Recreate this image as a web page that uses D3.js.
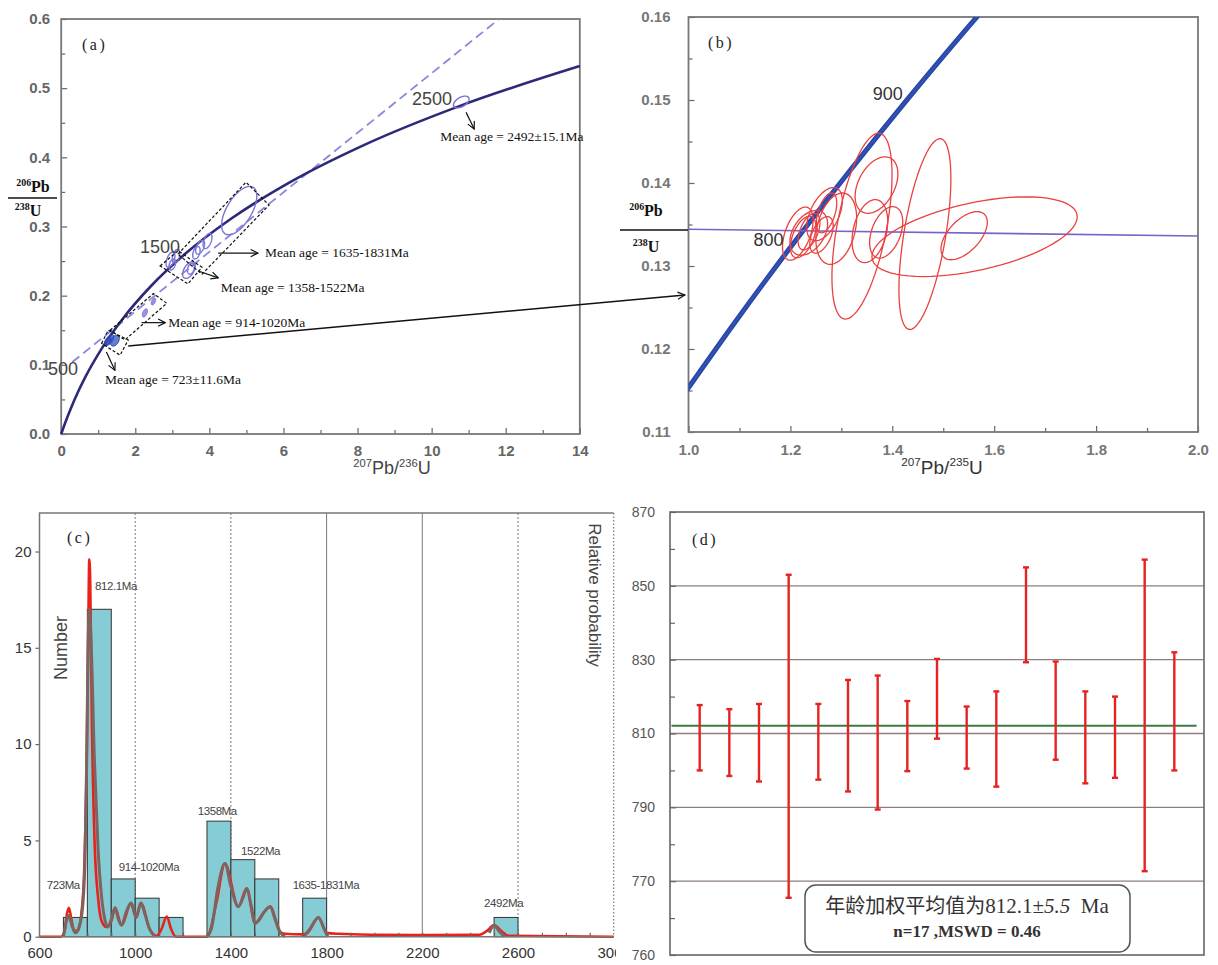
<!DOCTYPE html>
<html>
<head>
<meta charset="utf-8">
<script src="https://cdn.jsdelivr.net/npm/d3@7"></script>
<style>
  body { margin: 0; background: #fff; }
  svg { display: block; }
</style>
</head>
<body>
<svg id="fig" width="1218" height="965"></svg>
<script>
// ---------- data: panel (a) concordia diagram ----------
const concAgesA = [0, 100, 250, 375, 500, 750, 1000, 1250, 1500, 1750, 2000, 2250, 2500, 2750];
const concXA = [0, 0.1035, 0.2792, 0.4468, 0.6362, 1.0931, 1.6774, 2.4247, 3.3812, 4.6042, 6.1685, 8.1704, 10.731, 14.005];
const concYA = [0, 0.0156, 0.0395, 0.0599, 0.0807, 0.1234, 0.1678, 0.2140, 0.2620, 0.3119, 0.3638, 0.4177, 0.4737, 0.5320];
const discordA = [[0.3, 0.104], [11.82, 0.6]];
// error ellipses: [x, y, sx, sy, rho]
const ellipsesA = [
  [10.8, 0.480, 0.21, 0.0085, 0.5],
  [4.805, 0.323, 0.475, 0.035, 0.6],
  [3.75, 0.270, 0.12, 0.010, 0.5],
  [3.95, 0.279, 0.12, 0.011, 0.5],
  [3.65, 0.262, 0.10, 0.009, 0.4],
  [2.95, 0.252, 0.12, 0.011, 0.5],
  [3.10, 0.257, 0.10, 0.010, 0.4],
  [3.00, 0.245, 0.09, 0.008, 0.4],
  [3.45, 0.237, 0.17, 0.012, 0.5],
  [3.50, 0.239, 0.09, 0.008, 0.3]
];
const spotsA = [
  [2.49, 0.1915, 0.06, 0.005, 0.5],
  [2.26, 0.175, 0.07, 0.006, 0.5]
];
const clusterA = [
  [1.30, 0.136, 0.12, 0.008, 0.6],
  [1.25, 0.134, 0.08, 0.006, 0.5],
  [1.45, 0.135, 0.12, 0.008, 0.4]
];
const boxesA = [
  [[3.15, 0.260], [4.99, 0.364], [5.61, 0.331], [3.80, 0.231]],
  [[2.67, 0.243], [3.16, 0.265], [3.80, 0.241], [3.42, 0.217]],
  [[1.32, 0.150], [2.49, 0.203], [2.85, 0.189], [1.72, 0.136]],
  [[1.09, 0.131], [1.27, 0.150], [1.81, 0.136], [1.59, 0.114]]
];
const ageLabelsA = [
  { text: '500', x: 0.05, y: 0.0955 },
  { text: '1500', x: 2.67, y: 0.272 },
  { text: '2500', x: 10.01, y: 0.486 }
];
const meanLabelsA = [
  { text: 'Mean age = 2492\u00b115.1Ma', x: 10.23, y: 0.4236 },
  { text: 'Mean age = 1635-1831Ma', x: 5.50, y: 0.2552 },
  { text: 'Mean age = 1358-1522Ma', x: 4.31, y: 0.2053 },
  { text: 'Mean age = 914-1020Ma', x: 2.89, y: 0.1547 },
  { text: 'Mean age = 723\u00b111.6Ma', x: 1.18, y: 0.0730 }
];
const arrowsA = [
  [[10.93, 0.465], [11.15, 0.441]],
  [[4.24, 0.2616], [5.31, 0.2616]],
  [[3.72, 0.2353], [4.24, 0.2257]],
  [[2.17, 0.1610], [2.81, 0.1610]],
  [[1.22, 0.1185], [1.45, 0.0920]]
];
const ticksAx = [0, 2, 4, 6, 8, 10, 12, 14];
const ticksAy = [0, 0.1, 0.2, 0.3, 0.4, 0.5, 0.6];

// ---------- data: panel (b) enlarged concordia ----------
const concAgesB = [700, 750, 800, 850, 900, 950, 960];
const concXB = [0.9926, 1.0931, 1.1987, 1.3097, 1.4264, 1.5488, 1.5740];
const concYB = [0.1147, 0.12338, 0.13214, 0.14094, 0.14983, 0.15878, 0.16057];
const discordB = [[1.0, 0.13442], [2.0, 0.13361]];
const ellipsesB = [
  [1.2145, 0.1339, 0.030, 0.0032, 0.5],
  [1.236, 0.1340, 0.037, 0.0027, 0.4],
  [1.267, 0.13625, 0.035, 0.0032, 0.5],
  [1.261, 0.13375, 0.023, 0.0022, 0.5],
  [1.2365, 0.13415, 0.0215, 0.0022, 0.5],
  [1.271, 0.1364, 0.020, 0.0024, 0.5],
  [1.225, 0.1335, 0.025, 0.0025, 0.5],
  [1.29, 0.1345, 0.040, 0.0043, 0.3],
  [1.3405, 0.1348, 0.059, 0.0112, 0.55],
  [1.369, 0.13975, 0.042, 0.0034, 0.4],
  [1.388, 0.13405, 0.0325, 0.0031, 0.4],
  [1.356, 0.1342, 0.035, 0.0038, 0.3],
  [1.464, 0.13385, 0.051, 0.0115, 0.58],
  [1.5615, 0.13353, 0.2015, 0.0048, 0.5],
  [1.541, 0.13365, 0.0455, 0.0029, 0.56]
];
const ageLabelsB = [
  { text: '800', x: 1.157, y: 0.13325 },
  { text: '900', x: 1.391, y: 0.1509 }
];
const ticksBx = [1.0, 1.2, 1.4, 1.6, 1.8, 2.0];
const ticksBy = [0.11, 0.12, 0.13, 0.14, 0.15, 0.16];

// ---------- data: panel (c) histogram ----------
const binStarts = [700, 800, 900, 1000, 1100, 1300, 1400, 1500, 1700, 2500];
const binCounts = [1, 17, 3, 2, 1, 6, 4, 3, 2, 1];
const redAges = [600, 690, 705, 715, 723, 732, 745, 760, 775, 787, 797, 804, 808, 812, 818, 830, 845, 860, 880, 900, 916, 943, 983, 1004, 1024, 1060, 1090, 1110, 1132, 1150, 1170, 1300, 1305, 1340, 1375, 1431, 1466, 1501, 1536, 1564, 1605, 1626, 1700, 1720, 1766, 1800, 1850, 2000, 2200, 2440, 2470, 2500, 2530, 2560, 3000];
const redVals = [0, 0, 0.3, 1.2, 1.5, 1.0, 0.3, 0.3, 1.2, 3.5, 9, 16, 19.6, 18.5, 12, 5, 2, 0.8, 0.5, 0.8, 1.5, 0.6, 1.75, 1.0, 1.75, 0.4, 0.05, 0.4, 1.05, 0.4, 0, 0, 0.05, 1.8, 3.8, 1.56, 2.5, 0.7, 1.23, 1.56, 0.26, 0.15, 0.12, 0.2, 1.0, 0.2, 0.15, 0.1, 0.08, 0.1, 0.3, 0.6, 0.3, 0.05, 0];
const grayAges = [700, 712, 722, 735, 750, 765, 780, 790, 797, 803, 808, 815, 830, 845, 860, 875, 886, 900, 916, 930, 943, 963, 983, 995, 1004, 1014, 1024, 1040, 1060, 1083, null,
  1300, 1320, 1345, 1375, 1400, 1431, 1450, 1466, 1485, 1501, 1520, 1536, 1564, 1585, 1605, 1626, null,
  1705, 1730, 1766, 1790, 1805, null,
  2480, 2500, 2520, 2545];
const grayVals = [0, 0.8, 1.1, 0.6, 0.2, 0.5, 1.5, 4, 9, 15, 17, 15.5, 9, 4.5, 2, 0.8, 0.5, 0.9, 1.5, 0.9, 0.6, 1.3, 1.75, 1.3, 1.0, 1.4, 1.75, 1.2, 0.4, 0, null,
  0, 0.5, 2.5, 3.8, 2.6, 1.56, 2.0, 2.5, 1.6, 0.7, 0.9, 1.23, 1.56, 0.9, 0.26, 0, null,
  0, 0.4, 1.0, 0.4, 0, null,
  0.2, 0.6, 0.3, 0];
const peakLabels = [
  { text: '812.1Ma', age: 832, n: 18.0 },
  { text: '723Ma', age: 630, n: 2.48 },
  { text: '914-1020Ma', age: 931, n: 3.41 },
  { text: '1358Ma', age: 1261, n: 6.32 },
  { text: '1522Ma', age: 1442, n: 4.25 },
  { text: '1635-1831Ma', age: 1658, n: 2.48 },
  { text: '2492Ma', age: 2458, n: 1.54 }
];
const ticksCx = [600, 1000, 1400, 1800, 2200, 2600, 3000];
const ticksCy = [0, 5, 10, 15, 20];
const gridCx = [1000, 1400, 1800, 2200, 2600];

// ---------- data: panel (d) weighted mean ----------
const spotIndex = d3.range(1, 18);
const ageHigh = [817.7, 816.6, 818, 853, 818, 824.5, 825.7, 818.8, 830.2, 817.3, 821.4, 855, 829.5, 821.4, 820, 857.1, 832];
const ageLow = [800, 798.5, 797, 765.5, 797.5, 794.3, 789.4, 799.8, 808.6, 800.5, 795.6, 829.3, 802.9, 796.5, 798, 772.7, 800];
const weightedMean = 812.1;
const ticksDy = [750, 770, 790, 810, 830, 850, 870];
const tickLabelsDy = ['760', '770', '790', '810', '830', '850', '870'];
const minorDy = [760, 780, 800, 820, 840, 860];
const gridDy = [770, 790, 810, 830, 850];

// ---------- drawing ----------
const SANS = '"Liberation Sans", Arial, sans-serif';
const SERIF = '"Liberation Serif", "Times New Roman", serif';
const svg = d3.select('#fig');
svg.append('rect').attr('width', 1218).attr('height', 965).attr('fill', '#fff');
const defs = svg.append('defs');
defs.append('marker')
  .attr('id', 'arr')
  .attr('viewBox', '0 0 10 10')
  .attr('refX', 9).attr('refY', 5)
  .attr('markerWidth', 9).attr('markerHeight', 9)
  .attr('markerUnits', 'userSpaceOnUse')
  .attr('orient', 'auto')
  .append('path')
  .attr('d', 'M1,1L9,5L1,9')
  .attr('fill', 'none')
  .attr('stroke', '#111')
  .attr('stroke-width', 1.3);

function ellipseD(e, x, y) {
  const pts = d3.range(73).map(i => {
    const t = i / 72 * 2 * Math.PI;
    const ex = e[0] + e[2] * Math.cos(t);
    const ey = e[1] + e[3] * (e[4] * Math.cos(t) + Math.sqrt(1 - e[4] * e[4]) * Math.sin(t));
    return [x(ex), y(ey)];
  });
  return d3.line()(pts) + 'Z';
}

function styleAxis(g, size, color, weight) {
  g.select('.domain').remove();
  g.selectAll('.tick line').attr('stroke', '#666').attr('stroke-width', 1.2);
  g.selectAll('.tick text')
    .attr('font-family', SANS)
    .attr('font-size', size)
    .attr('font-weight', weight)
    .attr('fill', color);
}

function isoLabel(g, x, y, parts, size, opts) {
  const t = g.append('text')
    .attr('x', x).attr('y', y)
    .attr('text-anchor', 'middle')
    .attr('font-family', opts.family)
    .attr('font-weight', opts.weight)
    .attr('fill', opts.color);
  parts.forEach(p => {
    t.append('tspan')
      .attr('font-size', p.sup ? size * 0.62 : size)
      .attr('dy', p.sup ? -size * 0.4 : (p.after ? size * 0.4 : 0))
      .text(p.t);
  });
  return t;
}

// ===== panel (a) =====
const xA = d3.scaleLinear().domain([0, 14]).range([61.2, 579.8]);
const yA = d3.scaleLinear().domain([0, 0.6]).range([434, 19]);
const gA = svg.append('g');

gA.append('g').attr('transform', 'translate(0,434)')
  .call(d3.axisBottom(xA).tickValues(ticksAx).tickSize(-6).tickPadding(11).tickFormat(d3.format('d')))
  .call(g => styleAxis(g, 15, '#666', 'bold'));
gA.append('g').attr('transform', 'translate(0,434)')
  .call(d3.axisBottom(xA).tickValues(d3.range(1, 14, 2)).tickSize(-4).tickFormat(''))
  .call(g => styleAxis(g, 15, '#666', 'bold'));
gA.append('g').attr('transform', 'translate(61.2,0)')
  .call(d3.axisLeft(yA).tickValues(ticksAy).tickSize(-6).tickPadding(11).tickFormat(d3.format('.1f')))
  .call(g => styleAxis(g, 15, '#666', 'bold'));
gA.append('g').attr('transform', 'translate(61.2,0)')
  .call(d3.axisLeft(yA).tickValues(d3.range(0.05, 0.6, 0.1)).tickSize(-4).tickFormat(''))
  .call(g => styleAxis(g, 15, '#666', 'bold'));
gA.append('rect')
  .attr('x', xA(0)).attr('y', yA(0.6))
  .attr('width', xA(14) - xA(0)).attr('height', yA(0) - yA(0.6))
  .attr('fill', 'none').attr('stroke', '#777').attr('stroke-width', 1.8);

// discordia
gA.append('path')
  .attr('d', d3.line().x(d => xA(d[0])).y(d => yA(d[1]))(discordA))
  .attr('stroke', '#8c86dc').attr('stroke-width', 1.8)
  .attr('stroke-dasharray', '9,5').attr('fill', 'none');

// concordia
const concA = concAgesA.map((a, i) => [concXA[i], concYA[i]]);
gA.append('path')
  .attr('d', d3.line().x(d => xA(Math.min(d[0], 14))).y(d => yA(d[1])).curve(d3.curveMonotoneX)(concA))
  .attr('stroke', '#2c2a78').attr('stroke-width', 2.6).attr('fill', 'none');

gA.selectAll('path.ellA').data(ellipsesA).enter().append('path')
  .attr('d', d => ellipseD(d, xA, yA))
  .attr('fill', 'none').attr('stroke', '#7a74d4').attr('stroke-width', 1.4);
gA.selectAll('path.spotA').data(spotsA).enter().append('path')
  .attr('d', d => ellipseD(d, xA, yA))
  .attr('fill', '#9a94dc').attr('stroke', '#7a74d4').attr('stroke-width', 1);
gA.selectAll('path.clA').data(clusterA).enter().append('path')
  .attr('d', d => ellipseD(d, xA, yA))
  .attr('fill', '#3050c0').attr('fill-opacity', 0.75).attr('stroke', '#2840b0').attr('stroke-width', 1);

gA.selectAll('path.box').data(boxesA).enter().append('path')
  .attr('d', d => d3.line().x(p => xA(p[0])).y(p => yA(p[1]))(d) + 'Z')
  .attr('fill', 'none').attr('stroke', '#111').attr('stroke-width', 1.2)
  .attr('stroke-dasharray', '3,2');

gA.selectAll('text.age').data(ageLabelsA).enter().append('text')
  .attr('x', d => xA(d.x)).attr('y', d => yA(d.y) + 7)
  .attr('text-anchor', 'middle')
  .attr('font-family', SANS).attr('font-size', 18)
  .attr('fill', '#444').text(d => d.text);

gA.selectAll('text.mean').data(meanLabelsA).enter().append('text')
  .attr('x', d => xA(d.x)).attr('y', d => yA(d.y))
  .attr('font-family', SERIF).attr('font-size', 13.5)
  .attr('fill', '#111').text(d => d.text);

gA.selectAll('line.arr').data(arrowsA).enter().append('line')
  .attr('x1', d => xA(d[0][0])).attr('y1', d => yA(d[0][1]))
  .attr('x2', d => xA(d[1][0])).attr('y2', d => yA(d[1][1]))
  .attr('stroke', '#111').attr('stroke-width', 1.2)
  .attr('marker-end', 'url(#arr)');

gA.append('text').attr('x', 82).attr('y', 50)
  .attr('font-family', SERIF).attr('font-size', 16).attr('letter-spacing', 2.5)
  .attr('fill', '#222').text('(a)');

isoLabel(gA, 392, 474, [{ t: '207', sup: true }, { t: 'Pb/', after: true }, { t: '236', sup: true }, { t: 'U', after: true }], 18,
  { family: SANS, weight: 'normal', color: '#444' });
isoLabel(gA, 33, 192, [{ t: '206', sup: true }, { t: 'Pb', after: true }], 16, { family: SERIF, weight: 'bold', color: '#111' });
gA.append('line').attr('x1', 8).attr('x2', 57).attr('y1', 198).attr('y2', 198).attr('stroke', '#111').attr('stroke-width', 1.5);
isoLabel(gA, 28, 216, [{ t: '238', sup: true }, { t: 'U', after: true }], 16, { family: SERIF, weight: 'bold', color: '#111' });

// ===== panel (b) =====
const xB = d3.scaleLinear().domain([1.0, 2.0]).range([688.5, 1198]);
const yB = d3.scaleLinear().domain([0.11, 0.16]).range([432, 17]);
const gB = svg.append('g');
defs.append('clipPath').attr('id', 'clipB').append('rect')
  .attr('x', 688.5).attr('y', 17).attr('width', 1198 - 688.5).attr('height', 432 - 17);

gB.append('g').attr('transform', 'translate(0,432)')
  .call(d3.axisBottom(xB).tickValues(ticksBx).tickSize(-6).tickPadding(12).tickFormat(d3.format('.1f')))
  .call(g => styleAxis(g, 15, '#777', 'bold'));
gB.append('g').attr('transform', 'translate(0,432)')
  .call(d3.axisBottom(xB).tickValues(d3.range(1.1, 2.0, 0.2)).tickSize(-4).tickFormat(''))
  .call(g => styleAxis(g, 15, '#777', 'bold'));
gB.append('g').attr('transform', 'translate(688.5,0)')
  .call(d3.axisLeft(yB).tickValues(ticksBy).tickSize(-6).tickPadding(18).tickFormat(d3.format('.2f')))
  .call(g => styleAxis(g, 15, '#777', 'bold'));
gB.append('g').attr('transform', 'translate(688.5,0)')
  .call(d3.axisLeft(yB).tickValues(d3.range(0.115, 0.16, 0.01)).tickSize(-4).tickFormat(''))
  .call(g => styleAxis(g, 15, '#777', 'bold'));
gB.append('rect')
  .attr('x', xB(1)).attr('y', yB(0.16))
  .attr('width', xB(2) - xB(1)).attr('height', yB(0.11) - yB(0.16))
  .attr('fill', 'none').attr('stroke', '#777').attr('stroke-width', 1.8);

const plotB = gB.append('g').attr('clip-path', 'url(#clipB)');
const concB = concAgesB.map((a, i) => [concXB[i], concYB[i]]);
plotB.append('path')
  .attr('d', d3.line().x(d => xB(d[0])).y(d => yB(d[1])).curve(d3.curveMonotoneX)(concB))
  .attr('stroke', '#2a48a8').attr('stroke-width', 5).attr('fill', 'none');
plotB.append('path')
  .attr('d', d3.line().x(d => xB(d[0])).y(d => yB(d[1])).curve(d3.curveMonotoneX)(concB))
  .attr('stroke', '#3a5cc0').attr('stroke-width', 1).attr('fill', 'none');
plotB.append('path')
  .attr('d', d3.line().x(d => xB(d[0])).y(d => yB(d[1]))(discordB))
  .attr('stroke', '#7a62c8').attr('stroke-width', 1.6).attr('fill', 'none');
plotB.selectAll('path.ellB').data(ellipsesB).enter().append('path')
  .attr('d', d => ellipseD(d, xB, yB))
  .attr('fill', 'none').attr('stroke', '#ea4040').attr('stroke-width', 1.3);

gB.selectAll('text.age').data(ageLabelsB).enter().append('text')
  .attr('x', d => xB(d.x)).attr('y', d => yB(d.y) + 7)
  .attr('text-anchor', 'middle')
  .attr('font-family', SANS).attr('font-size', 18)
  .attr('fill', '#333').text(d => d.text);

gB.append('text').attr('x', 708).attr('y', 48)
  .attr('font-family', SERIF).attr('font-size', 16).attr('letter-spacing', 2.5)
  .attr('fill', '#222').text('(b)');
isoLabel(gB, 942, 474, [{ t: '207', sup: true }, { t: 'Pb/', after: true }, { t: '235', sup: true }, { t: 'U', after: true }], 19,
  { family: SANS, weight: 'normal', color: '#333' });
isoLabel(gB, 646, 216, [{ t: '206', sup: true }, { t: 'Pb', after: true }], 16, { family: SERIF, weight: 'bold', color: '#111' });
gB.append('line').attr('x1', 620).attr('x2', 688).attr('y1', 230).attr('y2', 230).attr('stroke', '#111').attr('stroke-width', 1.5);
isoLabel(gB, 646, 252, [{ t: '238', sup: true }, { t: 'U', after: true }], 16, { family: SERIF, weight: 'bold', color: '#111' });

// long arrow from (a) cluster box to panel (b)
svg.append('line')
  .attr('x1', xA(1.81)).attr('y1', yA(0.1272))
  .attr('x2', xB(0.993)).attr('y2', yB(0.1265))
  .attr('stroke', '#111').attr('stroke-width', 1.4)
  .attr('marker-end', 'url(#arr)');

// ===== panel (c) =====
const xC = d3.scaleLinear().domain([600, 3000]).range([39.5, 613.7]);
const yC = d3.scaleLinear().domain([0, 22]).range([936.7, 513]);
const gC = svg.append('g');

gC.selectAll('line.grid').data(gridCx).enter().append('line')
  .attr('x1', d => xC(d)).attr('x2', d => xC(d))
  .attr('y1', yC(22)).attr('y2', yC(0))
  .attr('stroke', '#857575').attr('stroke-width', 1)
  .attr('stroke-dasharray', d => (d === 1800 || d === 2200) ? null : '2,2');
gC.append('line')
  .attr('x1', xC(3000)).attr('x2', xC(3000)).attr('y1', yC(22)).attr('y2', yC(0))
  .attr('stroke', '#777').attr('stroke-width', 1.2).attr('stroke-dasharray', '1.5,2');

gC.selectAll('rect.bar').data(binStarts).enter().append('rect')
  .attr('x', d => xC(d))
  .attr('y', (d, i) => yC(binCounts[i]))
  .attr('width', d => xC(d + 100) - xC(d))
  .attr('height', (d, i) => yC(0) - yC(binCounts[i]))
  .attr('fill', '#86ccd4').attr('stroke', '#333').attr('stroke-width', 1);

gC.append('path')
  .attr('d', d3.line().x((d, i) => xC(redAges[i])).y(d => yC(d)).curve(d3.curveMonotoneX)(redVals))
  .attr('stroke', '#e8221a').attr('stroke-width', 2.6).attr('fill', 'none');
gC.append('path')
  .attr('d', d3.line()
    .defined(d => d != null)
    .x((d, i) => xC(grayAges[i])).y(d => yC(d))
    .curve(d3.curveMonotoneX)(grayVals))
  .attr('stroke', '#7d6461').attr('stroke-width', 3).attr('fill', 'none');

gC.append('g').attr('transform', 'translate(0,936.7)')
  .call(d3.axisBottom(xC).tickValues(ticksCx).tickSize(0).tickPadding(11).tickFormat(d3.format('d')))
  .call(g => styleAxis(g, 15, '#333', 'normal'));
gC.append('g').attr('transform', 'translate(0,936.7)')
  .call(d3.axisBottom(xC).tickValues(d3.range(700, 3000, 100)).tickSize(-4).tickFormat(''))
  .call(g => styleAxis(g, 15, '#333', 'normal'));
gC.append('g').attr('transform', 'translate(39.5,0)')
  .call(d3.axisLeft(yC).tickValues(ticksCy).tickSize(4).tickPadding(4).tickFormat(d3.format('d')))
  .call(g => styleAxis(g, 15, '#333', 'normal'));
gC.append('path')
  .attr('d', `M${xC(3000)},${yC(22)}H${xC(600)}V${yC(0)}H${xC(3000)}`)
  .attr('fill', 'none').attr('stroke', '#777').attr('stroke-width', 1.5);

gC.selectAll('text.peak').data(peakLabels).enter().append('text')
  .attr('x', d => xC(d.age)).attr('y', d => yC(d.n))
  .attr('font-family', SANS).attr('font-size', 11.5).attr('letter-spacing', -0.4)
  .attr('fill', '#444').text(d => d.text);

gC.append('text').attr('x', 67).attr('y', 543)
  .attr('font-family', SERIF).attr('font-size', 16).attr('letter-spacing', 2.5)
  .attr('fill', '#222').text('(c)');
gC.append('text')
  .attr('transform', 'translate(67,648) rotate(-90)')
  .attr('text-anchor', 'middle')
  .attr('font-family', SANS).attr('font-size', 18).attr('fill', '#444')
  .text('Number');
gC.append('text')
  .attr('transform', 'translate(589,595) rotate(90)')
  .attr('text-anchor', 'middle')
  .attr('font-family', SANS).attr('font-size', 17).attr('fill', '#444')
  .text('Relative probability');

// ===== panel (d) =====
svg.append('rect').attr('x', 616).attr('y', 480).attr('width', 602).attr('height', 485).attr('fill', '#fff');
const xD = d3.scaleLinear().domain([0, 18]).range([670, 1204]);
const yD = d3.scaleLinear().domain([750, 870]).range([955, 512]);
const gD = svg.append('g');

gD.selectAll('line.grid').data(gridDy).enter().append('line')
  .attr('x1', xD(0)).attr('x2', xD(18))
  .attr('y1', d => yD(d)).attr('y2', d => yD(d))
  .attr('stroke', '#8e7e7e').attr('stroke-width', 1.4);

gD.append('line')
  .attr('x1', xD(0.05)).attr('x2', xD(17.75))
  .attr('y1', yD(weightedMean)).attr('y2', yD(weightedMean))
  .attr('stroke', '#3f7a46').attr('stroke-width', 2);

const bars = gD.selectAll('g.err').data(spotIndex).enter().append('g');
bars.append('line')
  .attr('x1', d => xD(d)).attr('x2', d => xD(d))
  .attr('y1', (d, i) => yD(ageHigh[i])).attr('y2', (d, i) => yD(ageLow[i]))
  .attr('stroke', '#e52222').attr('stroke-width', 2.4);
bars.append('line')
  .attr('x1', d => xD(d) - 3).attr('x2', d => xD(d) + 3)
  .attr('y1', (d, i) => yD(ageHigh[i])).attr('y2', (d, i) => yD(ageHigh[i]))
  .attr('stroke', '#e52222').attr('stroke-width', 2.4);
bars.append('line')
  .attr('x1', d => xD(d) - 3).attr('x2', d => xD(d) + 3)
  .attr('y1', (d, i) => yD(ageLow[i])).attr('y2', (d, i) => yD(ageLow[i]))
  .attr('stroke', '#e52222').attr('stroke-width', 2.4);

gD.append('g').attr('transform', 'translate(670,0)')
  .call(d3.axisLeft(yD).tickValues(ticksDy).tickSize(-6).tickPadding(15)
    .tickFormat((d, i) => tickLabelsDy[i]))
  .call(g => styleAxis(g, 14, '#555', 'normal'));
gD.append('g').attr('transform', 'translate(670,0)')
  .call(d3.axisLeft(yD).tickValues(minorDy).tickSize(-5).tickFormat(''))
  .call(g => styleAxis(g, 14, '#555', 'normal'));
gD.append('rect')
  .attr('x', xD(0)).attr('y', yD(870))
  .attr('width', xD(18) - xD(0)).attr('height', yD(750) - yD(870))
  .attr('fill', 'none').attr('stroke', '#666').attr('stroke-width', 1.6);

gD.append('text').attr('x', 692).attr('y', 545)
  .attr('font-family', SERIF).attr('font-size', 16).attr('letter-spacing', 2.5)
  .attr('fill', '#222').text('(d)');

gD.append('rect')
  .attr('x', 805).attr('y', 885).attr('width', 325).attr('height', 67)
  .attr('rx', 11).attr('fill', '#fff').attr('stroke', '#555').attr('stroke-width', 1.5);
const t1 = gD.append('text').attr('x', 967).attr('y', 913).attr('text-anchor', 'middle').attr('fill', '#333');
t1.append('tspan').attr('font-family', '"Noto Sans CJK SC", sans-serif').attr('font-size', 20).text('年龄加权平均值为');
t1.append('tspan').attr('font-family', SERIF).attr('font-size', 21).text('812.1\u00b1');
t1.append('tspan').attr('font-family', SERIF).attr('font-size', 21).attr('font-style', 'italic').text('5.5');
t1.append('tspan').attr('font-family', SERIF).attr('font-size', 21).text('\u00a0\u00a0Ma');
gD.append('text').attr('x', 967).attr('y', 937).attr('text-anchor', 'middle')
  .attr('font-family', SERIF).attr('font-size', 17).attr('font-weight', 'bold').attr('fill', '#333')
  .text('n=17 ,MSWD = 0.46');
</script>
</body>
</html>
